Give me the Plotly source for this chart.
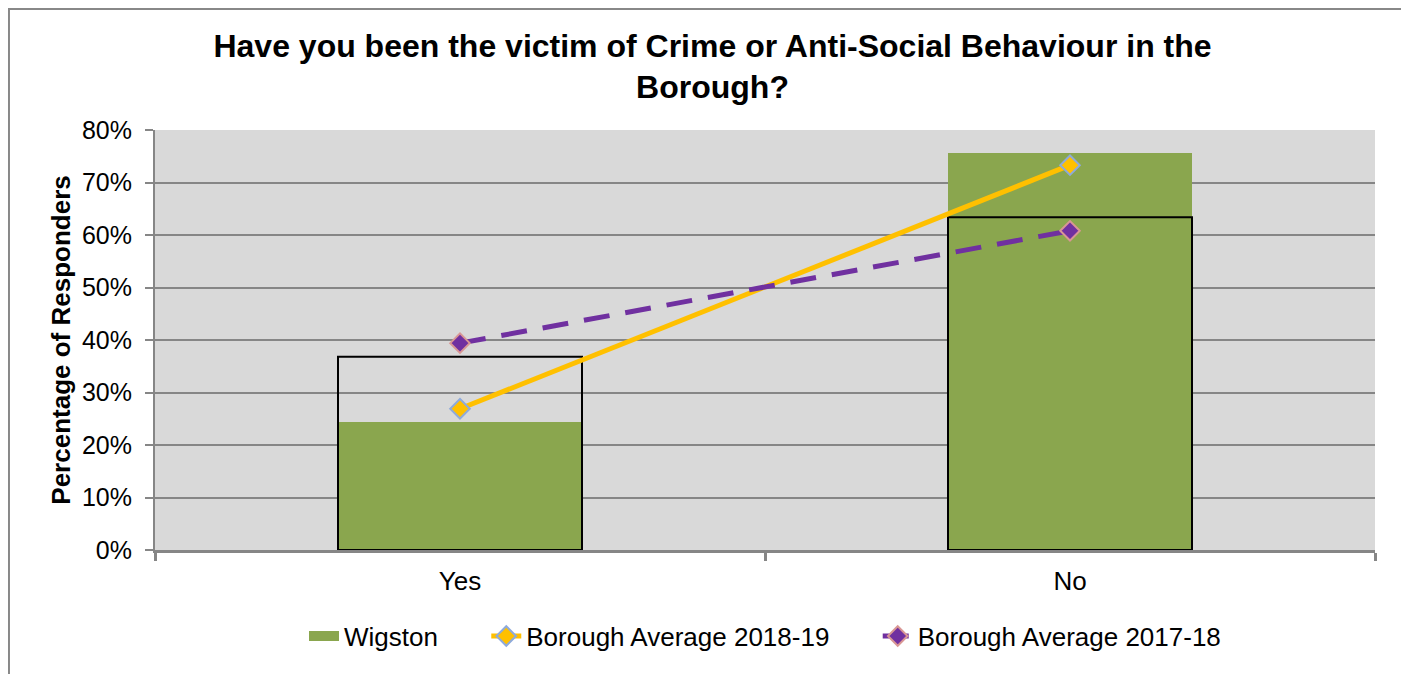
import plotly.graph_objects as go

categories = ['Yes', 'No']
wigston = [24.4, 75.6]
wigston_prev = [36.8, 63.4]
avg_2018_19 = [26.9, 73.3]
avg_2017_18 = [39.4, 60.8]

font = 'Liberation Sans, Arial, sans-serif'
green = '#8aa64e'
pad = '\u00a0' * 6

fig = go.Figure()

# Wigston bars
fig.add_trace(go.Bar(
    x=categories, y=wigston, name='Wigston',
    marker=dict(color=green, line=dict(width=0)),
    width=0.4, showlegend=False
))

# outline bars (no legend)
fig.add_trace(go.Bar(
    x=categories, y=wigston_prev, name='',
    marker=dict(color='rgba(0,0,0,0)', line=dict(color='black', width=2)),
    width=0.4, showlegend=False
))

# legend entry for Wigston, drawn as a wide block like the original
fig.add_trace(go.Scatter(
    x=[None], y=[None], mode='lines', name='Wigston' + pad,
    line=dict(color=green, width=16)
))

# Borough Average 2018-19
fig.add_trace(go.Scatter(
    x=categories, y=avg_2018_19, mode='lines+markers',
    name='Borough Average 2018-19' + pad,
    line=dict(color='#ffc000', width=5),
    marker=dict(symbol='diamond', size=15, color='#ffc000',
                line=dict(color='#8eaadb', width=2))
))

# Borough Average 2017-18
fig.add_trace(go.Scatter(
    x=categories, y=avg_2017_18, mode='lines+markers',
    name='Borough Average 2017-18',
    line=dict(color='#7030a0', width=5, dash='26px,16px'),
    marker=dict(symbol='diamond', size=15, color='#7030a0',
                line=dict(color='#d99694', width=2))
))

fig.update_layout(
    width=1409, height=674,
    barmode='overlay',
    plot_bgcolor='#d9d9d9', paper_bgcolor='white',
    margin=dict(l=147, r=42, t=122, b=132),
    font=dict(family=font, size=25, color='black'),
    title=dict(
        text='<b>Have you been the victim of Crime or Anti-Social Behaviour in the<br>Borough?</b>',
        x=0.5, xanchor='center', y=0.928, yanchor='top',
        font=dict(family=font, size=32, color='black')
    ),
    legend=dict(orientation='h', x=0.5, xanchor='center', y=-0.205, yanchor='middle',
                font=dict(size=26), traceorder='normal'),
    showlegend=True,
)

fig.update_yaxes(
    range=[0, 80], dtick=10, ticksuffix='%',
    showgrid=True, gridcolor='#868686', gridwidth=2,
    showline=True, linecolor='#868686', linewidth=2,
    ticks='outside', ticklen=8, tickcolor='#868686', tickwidth=2,
    ticklabelstandoff=8,
    zeroline=False,
    title=dict(text='<b>Percentage of Responders</b>', font=dict(size=26), standoff=4),
    tickfont=dict(size=25)
)

fig.update_xaxes(
    showline=True, linecolor='#868686', linewidth=3,
    ticks='outside', ticklen=8, tickcolor='#868686', tickwidth=3,
    ticklabelstandoff=6,
    tickson='boundaries', tickfont=dict(size=26), showgrid=False
)

# outer border of the chart
fig.add_shape(type='rect', xref='paper', yref='paper',
              x0=-0.1197, x1=1.023, y0=-0.4, y1=1.288,
              line=dict(color='#888888', width=2), layer='below')

fig.write_html('out.html')
